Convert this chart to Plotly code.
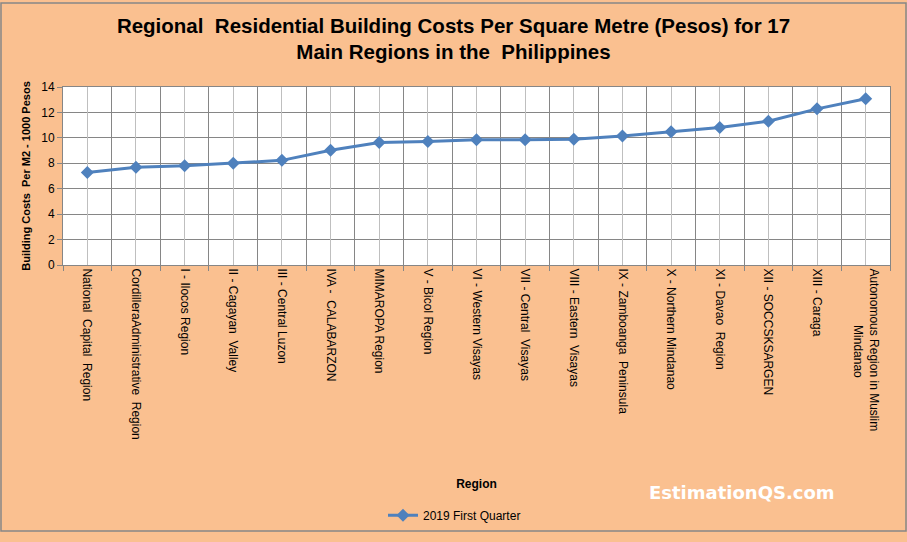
import plotly.graph_objects as go

NB = "&nbsp;"
regions = [
    "National  Capital  Region",
    "CordilleraAdministrative  Region",
    "I - Ilocos Region",
    "II - Cagayan  Valley",
    "III - Central Luzon",
    "IVA -  CALABARZON",
    "MIMAROPA Region",
    "V - Bicol Region",
    "VI - Western Visayas",
    "VII - Central  Visayas",
    "VIII - Eastern  Visayas",
    "IX - Zamboanga  Peninsula",
    "X - Northern Mindanao",
    "XI - Davao  Region",
    "XII - SOCCSKSARGEN",
    "XIII - Caraga",
    "Autonomous Region in Muslim<br>" + NB * 17 + "Mindanao",
]
costs_q1_2019 = [7.28, 7.69, 7.8, 8.0, 8.23, 9.02, 9.63, 9.72, 9.85, 9.85, 9.9,
                 10.15, 10.49, 10.82, 11.31, 12.28, 13.08]
series_name = "2019 First Quarter"
y_ticks = [0, 2, 4, 6, 8, 10, 12, 14]

BG = "#FAC090"
LINE = "#4F81BD"
FONT = "Liberation Sans, Arial, sans-serif"

fig = go.Figure()
fig.add_trace(go.Scatter(
    x=regions, y=costs_q1_2019, name=series_name, mode="lines+markers",
    line=dict(color=LINE, width=3),
    marker=dict(symbol="diamond", size=10, color=LINE),
))
# helper invisible trace on second x axis for center gridlines
fig.add_trace(go.Scatter(x=regions, y=costs_q1_2019, xaxis="x2", mode="none",
                         showlegend=False, hoverinfo="skip"))

W, H = 907, 542
ml, mr, mt, mb = 63, 17, 87, 273
pw, ph = W - ml - mr, H - mt - mb

fig.update_layout(
    width=W, height=H,
    paper_bgcolor=BG, plot_bgcolor="white",
    margin=dict(l=ml, r=mr, t=mt, b=mb),
    font=dict(family=FONT, color="black", size=12),
    title=dict(
        text="<b>Regional  Residential Building Costs Per Square Metre (Pesos) for 17<br>Main Regions in the  Philippines</b>",
        x=0.5, xanchor="center", y=0.94, yanchor="top",
        font=dict(size=20.5, family=FONT, color="black"),
    ),
    xaxis=dict(
        type="category", categoryorder="array", categoryarray=regions,
        range=[-0.5, len(regions) - 0.5],
        tickson="boundaries", showgrid=True, gridcolor="#868686", gridwidth=1,
        ticks="outside", ticklen=5, tickcolor="#868686",
        tickangle=90, tickfont=dict(size=12, family=FONT),
        showline=True, linecolor="#868686", mirror=True,
        title=dict(text="<b>Region</b>", font=dict(size=12, family=FONT), standoff=40),
        layer="below traces",
    ),
    xaxis2=dict(
        type="category", categoryorder="array", categoryarray=regions,
        range=[-0.5, len(regions) - 0.5], overlaying="x", side="bottom",
        matches="x",
        showgrid=True, gridcolor="#BFBFBF", gridwidth=1, showticklabels=False,
        ticks="", showline=False, layer="below traces",
    ),
    yaxis=dict(
        range=[0, 14], tickvals=y_ticks, showgrid=True, gridcolor="#868686",
        gridwidth=1, zeroline=False, ticks="outside", ticklen=5, tickcolor="#868686",
        showline=True, linecolor="#868686", mirror=True,
        tickfont=dict(size=12, family=FONT),
        title=dict(text="<b>Building Costs  Per M2 - 1000 Pesos</b>",
                   font=dict(size=11, family=FONT), standoff=8),
    ),
    legend=dict(orientation="h", x=(383 - ml) / pw, xanchor="left",
                y=-(510 - mt - ph) / ph, yanchor="top",
                font=dict(size=12, family=FONT), bgcolor="rgba(0,0,0,0)"),
    showlegend=True,
)

fig.add_annotation(
    text="<b>EstimationQS.com</b>", xref="paper", yref="paper",
    x=(742 - ml) / pw, y=-(502 - mt - ph) / ph, showarrow=False,
    font=dict(size=18, color="white", family="DejaVu Sans, Verdana, sans-serif"),
    xanchor="center", yanchor="middle",
)
# outer chart border
fig.add_shape(type="rect", xref="paper", yref="paper",
              x0=-(ml - 1) / pw, x1=1 + (mr - 1) / pw,
              y0=-(mb - 1) / ph, y1=1 + (mt - 1) / ph,
              line=dict(color="#868686", width=1.5), layer="below")

fig.write_html("out.html", config={"displayModeBar": False})

# remove default page margin so the chart sits at the window origin
with open("out.html", "r", encoding="utf-8") as f:
    html = f.read()
html = html.replace("<body>", '<body style="margin:0;padding:0;">', 1)
with open("out.html", "w", encoding="utf-8") as f:
    f.write(html)
